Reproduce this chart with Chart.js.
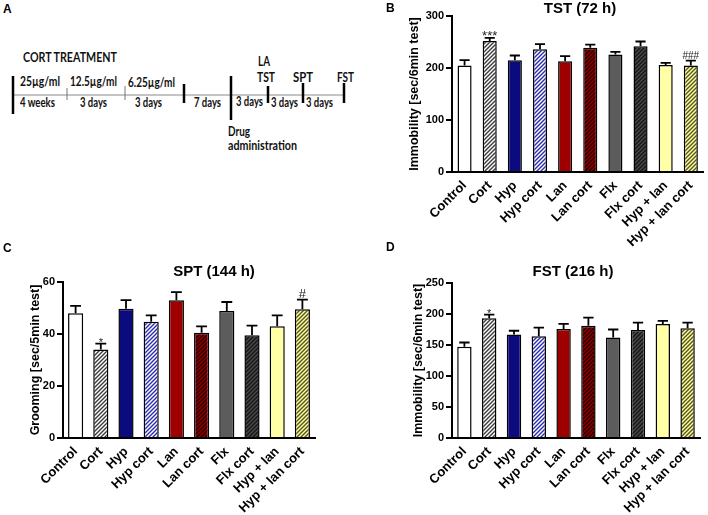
<!DOCTYPE html>
<html>
<head>
<meta charset="utf-8">
<script src="https://cdn.jsdelivr.net/npm/chart.js@4.4.1/dist/chart.umd.min.js"></script>
<style>
  body { margin: 0; background: #fff; }
  #wrap { position: relative; width: 708px; height: 515px; overflow: hidden; font-family: "Liberation Sans", Arial, sans-serif; }
  canvas { position: absolute; }
  svg { position: absolute; left: 0; top: 0; }
  .tag { position: absolute; font-weight: bold; font-size: 12px; color: #000; }
  svg text { font-family: Lato, "Open Sans", sans-serif; font-weight: bold; font-size: 13px; fill: #111; }
</style>
</head>
<body>
<div id="wrap">
  <svg width="355" height="250">
    <!-- timeline -->
    <line x1="13" y1="95" x2="344" y2="95" stroke="#8a8a8a" stroke-width="1"/>
    <line x1="13" y1="76" x2="13" y2="114" stroke="#000" stroke-width="2.5"/>
    <line x1="67" y1="88" x2="67" y2="100" stroke="#777" stroke-width="1"/>
    <line x1="125" y1="86" x2="125" y2="100" stroke="#777" stroke-width="1"/>
    <line x1="184" y1="84" x2="184" y2="103" stroke="#000" stroke-width="2.5"/>
    <line x1="231" y1="76" x2="231" y2="120" stroke="#000" stroke-width="2.5"/>
    <line x1="268" y1="86" x2="268" y2="103" stroke="#000" stroke-width="2.5"/>
    <line x1="303" y1="83" x2="303" y2="103" stroke="#000" stroke-width="2.5"/>
    <line x1="344" y1="83" x2="344" y2="103" stroke="#000" stroke-width="2.5"/>
    <text x="23" y="62" textLength="94" lengthAdjust="spacingAndGlyphs">CORT TREATMENT</text>
    <text x="20" y="86" textLength="40" lengthAdjust="spacingAndGlyphs">25µg/ml</text>
    <text x="70" y="86" textLength="47" lengthAdjust="spacingAndGlyphs">12.5µg/ml</text>
    <text x="128" y="87" textLength="47" lengthAdjust="spacingAndGlyphs">6.25µg/ml</text>
    <text x="20" y="107" textLength="35" lengthAdjust="spacingAndGlyphs">4 weeks</text>
    <text x="80" y="107" textLength="27" lengthAdjust="spacingAndGlyphs">3 days</text>
    <text x="135" y="107" textLength="27" lengthAdjust="spacingAndGlyphs">3 days</text>
    <text x="194" y="107" textLength="27" lengthAdjust="spacingAndGlyphs">7 days</text>
    <text x="236" y="106" textLength="27" lengthAdjust="spacingAndGlyphs">3 days</text>
    <text x="271" y="107" textLength="27" lengthAdjust="spacingAndGlyphs">3 days</text>
    <text x="306" y="107" textLength="27" lengthAdjust="spacingAndGlyphs">3 days</text>
    <text x="258" y="66" textLength="12" lengthAdjust="spacingAndGlyphs">LA</text>
    <text x="257" y="82" textLength="18" lengthAdjust="spacingAndGlyphs">TST</text>
    <text x="293" y="82" textLength="20" lengthAdjust="spacingAndGlyphs">SPT</text>
    <text x="337" y="82" textLength="17" lengthAdjust="spacingAndGlyphs">FST</text>
    <text x="228" y="136" textLength="22" lengthAdjust="spacingAndGlyphs">Drug</text>
    <text x="228" y="150" textLength="69" lengthAdjust="spacingAndGlyphs">administration</text>
  </svg>
  <canvas id="tst" width="348" height="250" style="left:360px;top:0"></canvas>
  <canvas id="spt" width="355" height="265" style="left:0;top:250px"></canvas>
  <canvas id="fst" width="348" height="265" style="left:360px;top:250px"></canvas>
  <div class="tag" style="left:3px;top:2px">A</div>
  <div class="tag" style="left:386px;top:1px">B</div>
  <div class="tag" style="left:3px;top:241px">C</div>
  <div class="tag" style="left:386px;top:240px">D</div>
</div>
<script>
// groups and values (mean, SEM)
const groups = ["Control", "Cort", "Hyp", "Hyp cort", "Lan", "Lan cort", "Flx", "Flx cort", "Hyp + lan", "Hyp + lan cort"];

const tstMean = [205, 252, 215, 236, 213, 239, 226, 242, 206, 205];
const tstSem = [10, 6, 9, 10, 10, 6, 5, 9, 4, 9];
const tstSig = ["", "***", "", "", "", "", "", "", "", "###"];
const tstTicks = [0, 100, 200, 300];

const sptMean = [48, 34, 49.7, 44.7, 53, 40.5, 48.8, 39.5, 43, 49.5];
const sptSem = [2.8, 2.3, 3.3, 2.5, 3.1, 2.4, 3.5, 3.7, 4.2, 3.7];
const sptSig = ["", "*", "", "", "", "", "", "", "", "#"];
const sptTicks = [0, 20, 40, 60];

const fstMean = [147, 193, 167, 164, 176, 181, 162, 174, 184, 177];
const fstSem = [7, 6, 6, 14, 8, 13, 13, 12, 5, 9];
const fstSig = ["", "*", "", "", "", "", "", "", "", ""];
const fstTicks = [0, 50, 100, 150, 200, 250];

Chart.defaults.font.family = '"Liberation Sans", Arial, sans-serif';
Chart.defaults.color = "#000";

// hatched fill for the "cort" groups
function hatch(bg, fg) {
  const c = document.createElement("canvas");
  c.width = 4;
  c.height = 4;
  const g = c.getContext("2d");
  g.fillStyle = bg;
  g.fillRect(0, 0, 4, 4);
  g.strokeStyle = fg;
  g.lineWidth = 1.4;
  g.beginPath();
  g.moveTo(0, 4); g.lineTo(4, 0);
  g.moveTo(-1, 1); g.lineTo(1, -1);
  g.moveTo(3, 5); g.lineTo(5, 3);
  g.stroke();
  return g.createPattern(c, "repeat");
}

const fills = [
  "#ffffff",
  hatch("#ffffff", "#3a3a3a"),
  "#0b0b7d",
  hatch("#ffffff", "#2b2bb0"),
  "#9e0000",
  hatch("#8f0000", "#2a0000"),
  "#5c5c5c",
  hatch("#4a4a4a", "#151515"),
  "#ffffa6",
  hatch("#ffff99", "#55552a"),
];

// upward SEM bars + significance marks
const errorBars = {
  id: "errorBars",
  afterDatasetsDraw(chart, args, opts) {
    const ds = chart.data.datasets[0];
    const meta = chart.getDatasetMeta(0);
    const y = chart.scales.y;
    const ctx = chart.ctx;
    ctx.save();
    ctx.strokeStyle = "#000";
    ctx.lineWidth = 1.8;
    meta.data.forEach((bar, i) => {
      const top = y.getPixelForValue(ds.data[i] + ds.sem[i]);
      const half = bar.width * 0.36;
      ctx.beginPath();
      ctx.moveTo(bar.x, bar.y);
      ctx.lineTo(bar.x, top);
      ctx.moveTo(bar.x - half, top);
      ctx.lineTo(bar.x + half, top);
      ctx.stroke();
      const mark = ds.sig[i];
      if (mark) {
        const size = mark.includes("*") ? opts.starSize : opts.hashSize;
        ctx.font = size + 'px "Liberation Sans", Arial, sans-serif';
        ctx.fillStyle = "#222";
        ctx.textAlign = "center";
        ctx.textBaseline = "alphabetic";
        const m = ctx.measureText(mark);
        ctx.fillText(mark, bar.x, top - 2 - m.actualBoundingBoxDescent);
      }
    });
    ctx.restore();
  },
};

const panelTitle = {
  id: "panelTitle",
  afterDraw(chart, args, opts) {
    const ctx = chart.ctx;
    ctx.save();
    ctx.font = 'bold 15px "Liberation Sans", Arial, sans-serif';
    ctx.fillStyle = "#000";
    ctx.textAlign = "center";
    ctx.textBaseline = "middle";
    ctx.fillText(opts.text, opts.x, opts.y);
    ctx.restore();
  },
};

function barChart(id, cfg) {
  new Chart(document.getElementById(id), {
    type: "bar",
    data: {
      labels: groups,
      datasets: [
        {
          data: cfg.mean,
          sem: cfg.sem,
          sig: cfg.sig,
          backgroundColor: fills,
          borderColor: "#000",
          borderWidth: 1.5,
          barPercentage: cfg.barPct,
          categoryPercentage: 1,
        },
      ],
    },
    options: {
      responsive: false,
      animation: false,
      layout: { padding: { top: cfg.top, right: cfg.right, bottom: 0, left: 0 } },
      plugins: {
        legend: { display: false },
        tooltip: { enabled: false },
        panelTitle: { text: cfg.title, x: cfg.titleX, y: cfg.titleY },
        errorBars: { starSize: cfg.starSize, hashSize: cfg.hashSize },
      },
      scales: {
        x: {
          grid: { display: false, drawTicks: false },
          border: { color: "#000", width: 2 },
          ticks: {
            color: "#000",
            font: { size: 13, weight: "bold" },
            minRotation: 45,
            maxRotation: 45,
            autoSkip: false,
            padding: 6,
          },
          afterFit: (s) => { s.height = cfg.xHeight; },
        },
        y: {
          min: 0,
          max: cfg.ticks[cfg.ticks.length - 1],
          afterBuildTicks: (s) => { s.ticks = cfg.ticks.map((v) => ({ value: v })); },
          ticks: { color: "#000", font: { size: 11, weight: "bold" }, padding: 2 },
          grid: { drawOnChartArea: false, tickLength: 6, color: "#000", lineWidth: 2 },
          border: { color: "#000", width: 2 },
          title: {
            display: true,
            text: cfg.yTitle,
            color: "#000",
            font: { size: 12.5, weight: "bold" },
            padding: { top: cfg.yTitleX - 7.5, bottom: 0 },
          },
          afterFit: (s) => { s.width = cfg.left; },
        },
      },
    },
    plugins: [errorBars, panelTitle],
  });
}

barChart("tst", {
  mean: tstMean, sem: tstSem, sig: tstSig, ticks: tstTicks,
  title: "TST (72 h)", titleX: 220, titleY: 9,
  yTitle: "Immobility [sec/6min test]", yTitleX: 55,
  left: 92, top: 16, right: 3, xHeight: 78, barPct: 0.56, starSize: 13, hashSize: 10,
});

barChart("spt", {
  mean: sptMean, sem: sptSem, sig: sptSig, ticks: sptTicks,
  title: "SPT (144 h)", titleX: 214, titleY: 22,
  yTitle: "Grooming [sec/5min test]", yTitleX: 36,
  left: 63, top: 32, right: 40, xHeight: 77, barPct: 0.6, starSize: 11, hashSize: 13,
});

barChart("fst", {
  mean: fstMean, sem: fstSem, sig: fstSig, ticks: fstTicks,
  title: "FST (216 h)", titleX: 213, titleY: 22,
  yTitle: "Immobility [sec/6min test]", yTitleX: 59,
  left: 92, top: 33, right: 8, xHeight: 77, barPct: 0.58, starSize: 11, hashSize: 10,
});
</script>
</body>
</html>
